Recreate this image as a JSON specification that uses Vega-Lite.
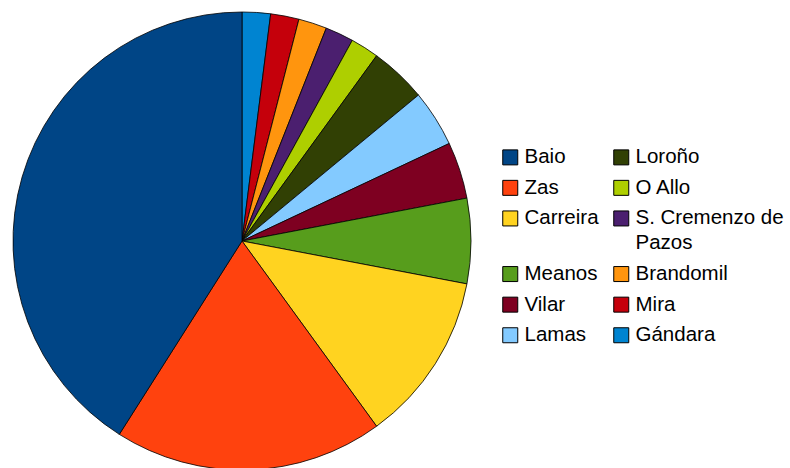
{
  "$schema": "https://vega.github.io/schema/vega-lite/v6.json",
  "width": 484,
  "height": 482,
  "padding": 0,
  "background": "white",
  "config": {"view": {"stroke": null}, "font": "Liberation Sans", "style": {"guide-label": {"lineHeight": 25}}},
  "data": {
    "values": [
      {"k": 1, "parish": "Gándara", "share": 2},
      {"k": 2, "parish": "Mira", "share": 2},
      {"k": 3, "parish": "Brandomil", "share": 2},
      {"k": 4, "parish": "S. Cremenzo de Pazos", "share": 2},
      {"k": 5, "parish": "O Allo", "share": 2},
      {"k": 6, "parish": "Loroño", "share": 4},
      {"k": 7, "parish": "Lamas", "share": 4},
      {"k": 8, "parish": "Vilar", "share": 4},
      {"k": 9, "parish": "Meanos", "share": 6},
      {"k": 10, "parish": "Carreira", "share": 12},
      {"k": 11, "parish": "Zas", "share": 19},
      {"k": 12, "parish": "Baio", "share": 41}
    ]
  },
  "mark": {"type": "arc", "outerRadius": 229, "stroke": "black", "strokeWidth": 0.8},
  "encoding": {
    "theta": {"field": "share", "type": "quantitative", "stack": true},
    "order": {"field": "k", "type": "quantitative", "sort": "ascending"},
    "color": {
      "field": "parish",
      "type": "nominal",
      "scale": {
        "domain": ["Baio", "Zas", "Carreira", "Meanos", "Vilar", "Lamas", "Loroño", "O Allo", "S. Cremenzo de Pazos", "Brandomil", "Mira", "Gándara"],
        "range": ["#004586", "#ff420e", "#ffd320", "#579d1c", "#7e0021", "#83caff", "#314004", "#aecf00", "#4b1f6f", "#ff950e", "#c5000b", "#0084d1"]
      },
      "legend": {
        "title": null,
        "orient": "none",
        "legendX": 500,
        "legendY": 147,
        "columns": 2,
        "columnPadding": 12,
        "rowPadding": 9.6,
        "symbolType": "square",
        "symbolSize": 225,
        "symbolStrokeColor": "black",
        "symbolStrokeWidth": 1,
        "symbolOpacity": 1,
        "labelFont": "Liberation Sans",
        "labelFontSize": 20.5,
        "labelColor": "black",
        "labelOffset": 4,
        "labelLimit": 300,
        "labelExpr": "datum.label == 'S. Cremenzo de Pazos' ? ['S. Cremenzo de', 'Pazos'] : datum.label"
      }
    }
  }
}
